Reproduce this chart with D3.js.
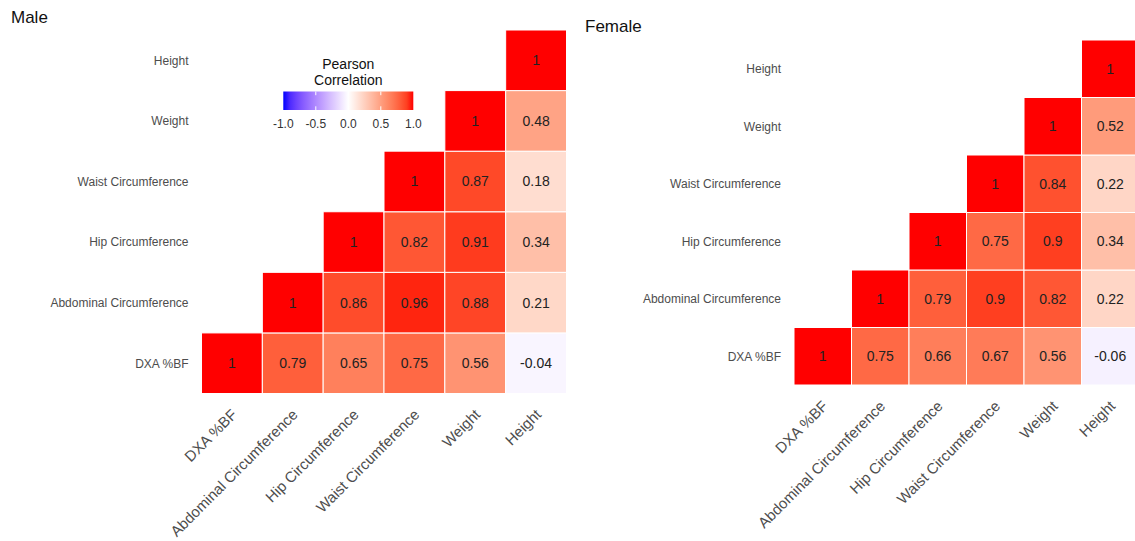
<!DOCTYPE html>
<html>
<head>
<meta charset="utf-8">
<script src="https://cdn.jsdelivr.net/npm/d3@7"></script>
<style>
  html, body { margin: 0; padding: 0; background: #ffffff; }
  svg { display: block; font-family: "Liberation Sans", Arial, sans-serif; }
</style>
</head>
<body>
<svg id="chart" width="1135" height="541"></svg>
<script>
// Variables in axis order (x: left to right, y: bottom to top)
const variables = ["DXA %BF", "Abdominal Circumference", "Hip Circumference",
                   "Waist Circumference", "Weight", "Height"];

// Pearson correlations, one row per variable; row i starts at column i
const maleCorr = [
  [1, 0.79, 0.65, 0.75, 0.56, -0.04],
  [1, 0.86, 0.96, 0.88, 0.21],
  [1, 0.82, 0.91, 0.34],
  [1, 0.87, 0.18],
  [1, 0.48],
  [1]
];
const femaleCorr = [
  [1, 0.75, 0.66, 0.67, 0.56, -0.06],
  [1, 0.79, 0.9, 0.82, 0.22],
  [1, 0.75, 0.9, 0.34],
  [1, 0.84, 0.22],
  [1, 0.52],
  [1]
];

const legendTicks = [-1.0, -0.5, 0.0, 0.5, 1.0];
const legendTitle = ["Pearson", "Correlation"];

const svg = d3.select("#chart");

// Diverging fill: blue – white – red, interpolated in Lab
const fill = d3.scaleLinear()
  .domain([-1, 0, 1])
  .range(["blue", "white", "red"])
  .interpolate(d3.interpolateLab)
  .clamp(true);

function toCells(rows) {
  const cells = [];
  rows.forEach((row, i) => {
    row.forEach((v, k) => {
      cells.push({ yVar: variables[i], xVar: variables[i + k], value: v });
    });
  });
  return cells;
}

function drawPanel(cfg) {
  const g = svg.append("g");
  const x = d3.scaleBand().domain(variables).range([cfg.left, cfg.right]).padding(0);
  const y = d3.scaleBand().domain(variables).range([cfg.bottom, cfg.top]).padding(0);
  const cells = toCells(cfg.rows);

  g.append("text")
    .attr("x", cfg.titleX).attr("y", cfg.titleY)
    .attr("font-size", 17).attr("fill", "#111")
    .text(cfg.title);

  g.selectAll("rect.cell").data(cells).join("rect")
    .attr("class", "cell")
    .attr("x", d => x(d.xVar))
    .attr("y", d => y(d.yVar))
    .attr("width", x.bandwidth())
    .attr("height", y.bandwidth())
    .attr("fill", d => fill(d.value))
    .attr("stroke", "white")
    .attr("stroke-width", 1);

  g.selectAll("text.val").data(cells).join("text")
    .attr("class", "val")
    .attr("x", d => x(d.xVar) + x.bandwidth() / 2)
    .attr("y", d => y(d.yVar) + y.bandwidth() / 2)
    .attr("text-anchor", "middle")
    .attr("dy", "0.36em")
    .attr("font-size", 14)
    .attr("fill", "#222")
    .text(d => String(d.value));

  // y axis labels
  g.selectAll("text.ylab").data(variables).join("text")
    .attr("class", "ylab")
    .attr("x", cfg.left - 13)
    .attr("y", d => y(d) + y.bandwidth() / 2)
    .attr("dy", "0.36em")
    .attr("text-anchor", "end")
    .attr("font-size", 12)
    .attr("fill", "#4d4d4d")
    .text(d => d);

  // x axis labels, rotated 45 degrees
  g.selectAll("text.xlab").data(variables).join("text")
    .attr("class", "xlab")
    .attr("transform", d => `translate(${x(d) + x.bandwidth() / 2 + 6},${cfg.bottom + 22}) rotate(-45)`)
    .attr("text-anchor", "end")
    .attr("font-size", 15)
    .attr("fill", "#4d4d4d")
    .text(d => d);
}

drawPanel({
  title: "Male", titleX: 11, titleY: 23,
  rows: maleCorr, left: 201.5, right: 566.5, top: 30, bottom: 393.5
});
drawPanel({
  title: "Female", titleX: 585, titleY: 32,
  rows: femaleCorr, left: 794, right: 1139, top: 40, bottom: 385
});

// Colour bar legend
(function drawLegend() {
  const lx = d3.scaleLinear().domain([-1, 1]).range([283.3, 413.3]);
  const barTop = 91.5, barH = 18.5;
  const g = svg.append("g");
  const defs = svg.append("defs");
  const grad = defs.append("linearGradient").attr("id", "corrGrad")
    .attr("x1", "0%").attr("x2", "100%").attr("y1", "0%").attr("y2", "0%");
  d3.range(0, 1.0001, 0.05).forEach(t => {
    grad.append("stop").attr("offset", (t * 100) + "%").attr("stop-color", fill(-1 + 2 * t));
  });

  g.selectAll("text.ltitle").data(legendTitle).join("text")
    .attr("class", "ltitle")
    .attr("x", (lx(-1) + lx(1)) / 2)
    .attr("y", (d, i) => 69 + i * 16)
    .attr("text-anchor", "middle")
    .attr("font-size", 14)
    .attr("fill", "#111")
    .text(d => d);

  g.append("rect")
    .attr("x", lx(-1)).attr("y", barTop)
    .attr("width", lx(1) - lx(-1)).attr("height", barH)
    .attr("fill", "url(#corrGrad)");

  const inner = legendTicks.filter(t => t > -1 && t < 1);
  g.selectAll("line.tt").data(inner).join("line")
    .attr("class", "tt")
    .attr("x1", d => lx(d)).attr("x2", d => lx(d))
    .attr("y1", barTop).attr("y2", barTop + 3.7)
    .attr("stroke", "white").attr("stroke-width", 1);
  g.selectAll("line.tb").data(inner).join("line")
    .attr("class", "tb")
    .attr("x1", d => lx(d)).attr("x2", d => lx(d))
    .attr("y1", barTop + barH - 3.7).attr("y2", barTop + barH)
    .attr("stroke", "white").attr("stroke-width", 1);

  g.selectAll("text.tick").data(legendTicks).join("text")
    .attr("class", "tick")
    .attr("x", d => lx(d))
    .attr("y", 127.5)
    .attr("text-anchor", "middle")
    .attr("font-size", 12)
    .attr("fill", "#333")
    .text(d => d.toFixed(1));
})();
</script>
</body>
</html>
